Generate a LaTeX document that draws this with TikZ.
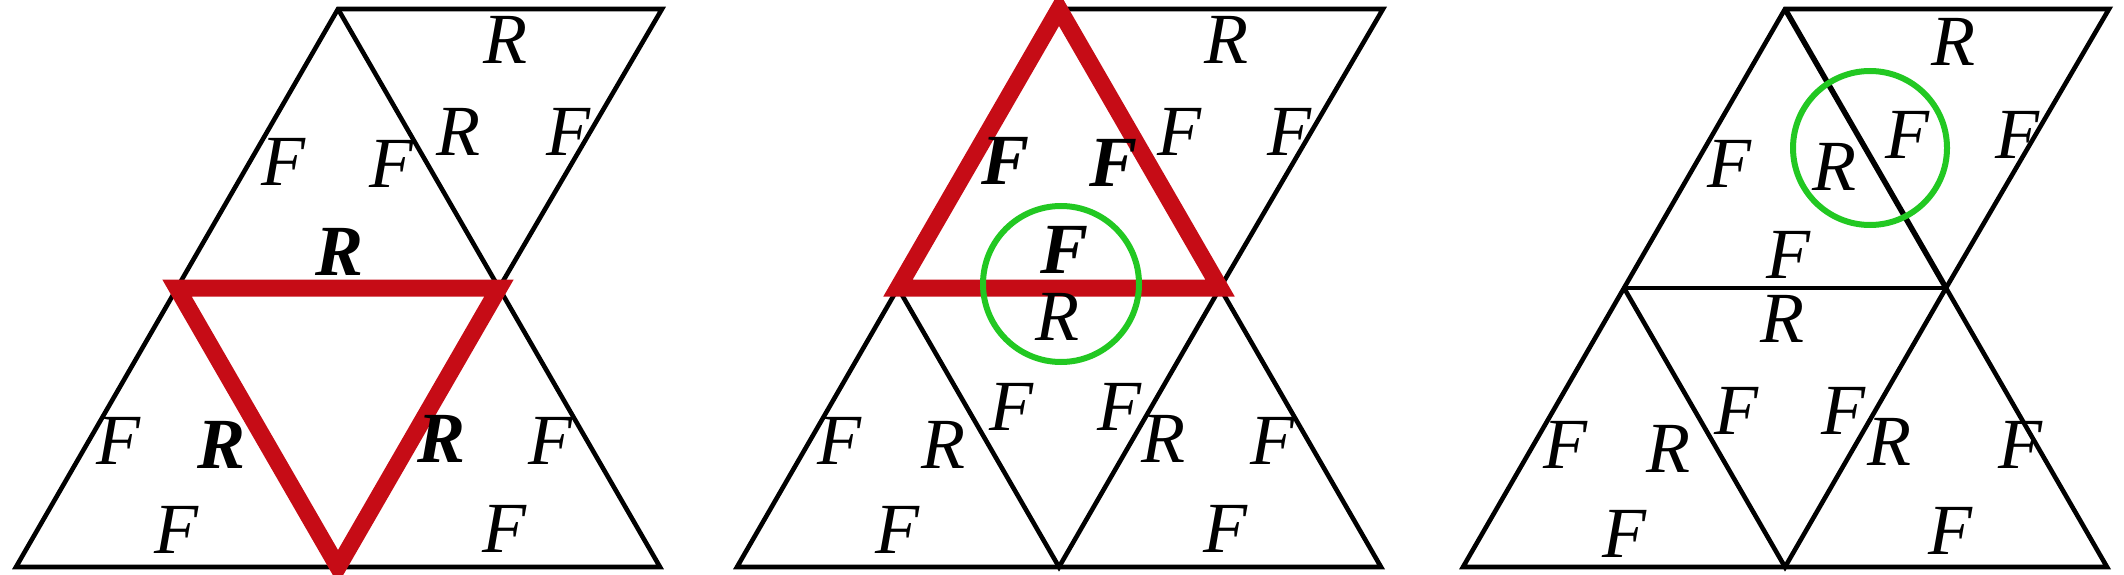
\documentclass[tikz,border=0pt]{standalone}
\usepackage{fontspec}
\setmainfont{Liberation Serif}
\definecolor{redline}{RGB}{198,12,22}
\definecolor{greenc}{RGB}{34,200,34}
\newcommand\mkpanel[1]{%
  \coordinate (#1bl) at (0,0);
  \coordinate (#1bm) at (322,0);
  \coordinate (#1br) at (644,0);
  \coordinate (#1ml) at (161,279);
  \coordinate (#1mr) at (483,279);
  \coordinate (#1ap) at (322,558);
  \coordinate (#1tr) at (646,558);
}
\begin{document}
\begin{tikzpicture}[x=1pt,y=1pt,
  edge/.style={black, line width=4.6pt, line join=miter},
  redtri/.style={redline, line width=17pt, line join=miter},
  ring/.style={greenc, line width=6pt},
  lbl/.style={inner sep=0pt, font=\fontsize{72}{72}\selectfont\itshape},
  blbl/.style={inner sep=0pt, font=\fontsize{72}{72}\selectfont\itshape\bfseries}]
\useasboundingbox (0,0) rectangle (2124,574);

% ---------------- Panel 1 ----------------
\begin{scope}[shift={(16,7)}]
  \mkpanel{a}
  \draw[edge] (abl) -- (abr) -- (amr) -- (atr) -- (aap) -- cycle;
  \draw[edge] (aap) -- (amr);
  \draw[redtri] (aml) -- (amr) -- (abm) -- cycle;
  \node[lbl]  (a5t) at (489,527) {R};
  \node[lbl]  (a5l) at (442,435) {R};
  \node[lbl]  (a5r) at (552,435) {F};
  \node[lbl]  (a4l) at (267,405) {F};
  \node[lbl]  (a4r) at (375,403) {F};
  \node[blbl] (a4b) at (324,315) {R};
  \node[lbl]  (a1l) at (102,126) {F};
  \node[blbl] (a1r) at (206,122) {R};
  \node[lbl]  (a1b) at (160,37) {F};
  \node[blbl] (a3l) at (426,128) {R};
  \node[lbl]  (a3r) at (534,126) {F};
  \node[lbl]  (a3b) at (488,38) {F};
\end{scope}

% ---------------- Panel 2 ----------------
\begin{scope}[shift={(737,7)}]
  \mkpanel{b}
  \draw[edge] (bbl) -- (bbr) -- (bmr) -- (btr) -- (bap) -- cycle;
  \draw[edge] (bap) -- (bmr);
  \draw[edge] (bml) -- (bbm) -- (bmr);
  \draw[redtri] (bml) -- (bmr) -- (bap) -- cycle;
  \draw[ring] (324,283) circle (78);
  \node[lbl]  (b5t) at (489,527) {R};
  \node[lbl]  (b5l) at (442,435) {F};
  \node[lbl]  (b5r) at (552,435) {F};
  \node[blbl] (b4l) at (268,406) {F};
  \node[blbl] (b4r) at (376,404) {F};
  \node[blbl] (b4b) at (327,317) {F};
  \node[lbl]  (b2t) at (320,250) {R};
  \node[lbl]  (b2l) at (274,160) {F};
  \node[lbl]  (b2r) at (382,160) {F};
  \node[lbl]  (b1l) at (102,126) {F};
  \node[lbl]  (b1r) at (206,122) {R};
  \node[lbl]  (b1b) at (160,37) {F};
  \node[lbl]  (b3l) at (426,128) {R};
  \node[lbl]  (b3r) at (535,126) {F};
  \node[lbl]  (b3b) at (488,38) {F};
\end{scope}

% ---------------- Panel 3 ----------------
\begin{scope}[shift={(1463,7)}]
  \mkpanel{c}
  \draw[edge] (cbl) -- (cbr) -- (cmr) -- (ctr) -- (cap) -- cycle;
  \draw[edge, line width=5.5pt] (cap) -- (cmr);
  \draw[edge] (cml) -- (cmr);
  \draw[edge] (cml) -- (cbm) -- (cmr);
  \draw[ring] (407,419) circle (77);
  \node[lbl]  (c5t) at (490,525) {R};
  \node[lbl]  (c5l) at (444,432) {F};
  \node[lbl]  (c5r) at (554,432) {F};
  \node[lbl]  (c4l) at (266,403) {F};
  \node[lbl]  (c4r) at (371,400) {R};
  \node[lbl]  (c4b) at (325,312) {F};
  \node[lbl]  (c2t) at (319,248) {R};
  \node[lbl]  (c2l) at (273,156) {F};
  \node[lbl]  (c2r) at (380,156) {F};
  \node[lbl]  (c1l) at (102,122) {F};
  \node[lbl]  (c1r) at (205,118) {R};
  \node[lbl]  (c1b) at (161,33) {F};
  \node[lbl]  (c3l) at (426,125) {R};
  \node[lbl]  (c3r) at (557,122) {F};
  \node[lbl]  (c3b) at (487,36) {F};
\end{scope}
\end{tikzpicture}
\end{document}
